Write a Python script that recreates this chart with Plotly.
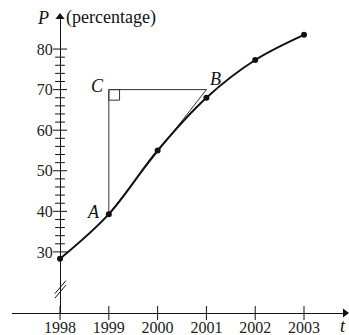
import plotly.graph_objects as go

# data
years = [1998, 1999, 2000, 2001, 2002, 2003]
percent = [28.3, 39.3, 55, 68, 77.3, 83.5]

point_a = (1999, 39.3)
point_b = (2001, 70)
point_c = (1999, 70)

y_major = [30, 40, 50, 60, 70, 80]
y_minor = [v for v in range(30, 81, 2) if v % 10 != 0]

x_range = [1997.016, 2003.84]
y_range = [14.94, 87.9]

serif = "Liberation Serif, Times New Roman, DejaVu Serif, serif"
ink = "#111111"

fig = go.Figure()

# triangle A -> C -> B and tangent A -> B
fig.add_trace(
    go.Scatter(
        x=[point_a[0], point_c[0], point_b[0], point_a[0]],
        y=[point_a[1], point_c[1], point_b[1], point_a[1]],
        mode="lines",
        line=dict(color="#333333", width=1),
        hoverinfo="skip",
    )
)

# the curve
fig.add_trace(
    go.Scatter(
        x=years,
        y=percent,
        mode="lines+markers",
        line=dict(color=ink, width=2, shape="spline", smoothing=1),
        marker=dict(color=ink, size=6),
        cliponaxis=False,
    )
)

# crossing tick marks on both axes
fig.add_trace(
    go.Scatter(
        x=years, y=[y_range[0]] * len(years), mode="markers",
        marker=dict(symbol="line-ns", size=10, line=dict(color=ink, width=1)),
        cliponaxis=False, hoverinfo="skip",
    )
)
fig.add_trace(
    go.Scatter(
        x=[years[0]] * len(y_major), y=y_major, mode="markers",
        marker=dict(symbol="line-ew", size=10, line=dict(color=ink, width=1)),
        cliponaxis=False, hoverinfo="skip",
    )
)
fig.add_trace(
    go.Scatter(
        x=[years[0]] * len(y_minor), y=y_minor, mode="markers",
        marker=dict(symbol="line-ew", size=7, line=dict(color=ink, width=1)),
        cliponaxis=False, hoverinfo="skip",
    )
)

# axis arrow heads
fig.add_trace(
    go.Scatter(
        x=[years[0], x_range[1]],
        y=[y_range[1], y_range[0]],
        mode="markers",
        marker=dict(symbol=["triangle-up", "triangle-right"], size=8, color=ink),
        cliponaxis=False,
        hoverinfo="skip",
    )
)

# right-angle box at C
fig.add_shape(
    type="rect",
    x0=point_c[0], x1=point_c[0] + 0.22,
    y0=point_c[1] - 2.6, y1=point_c[1],
    line=dict(color="#333333", width=1),
)

# axis break marks
for dy in [0, 1.1]:
    fig.add_shape(
        type="line",
        x0=1997.895, x1=1998.12,
        y0=18.6 + dy, y1=21.8 + dy,
        line=dict(color=ink, width=1),
    )

labels = [("C", 1998.76, 71.0), ("A", 1998.68, 39.8), ("B", 2001.18, 72.7)]
for txt, lx, ly in labels:
    fig.add_annotation(
        x=lx, y=ly, text=f"<i>{txt}</i>", showarrow=False,
        font=dict(family=serif, size=18, color=ink),
    )

fig.add_annotation(
    x=1997.66, y=87.7, text="<i>P</i>", showarrow=False,
    font=dict(family=serif, size=18, color=ink),
)
fig.add_annotation(
    x=1998.09, y=87.7, text="(percentage)", showarrow=False, xanchor="left",
    font=dict(family=serif, size=18, color=ink),
)
fig.add_annotation(
    x=2003.7, y=-0.045, yref="paper", yanchor="middle", text="<i>t</i>",
    showarrow=False, xanchor="left", font=dict(family=serif, size=18, color=ink),
)

fig.update_layout(
    width=349,
    height=335,
    margin=dict(l=12, r=4, t=17, b=22),
    plot_bgcolor="white",
    paper_bgcolor="white",
    showlegend=False,
    font=dict(family=serif, size=16, color="#222222"),
    xaxis=dict(range=x_range, showgrid=False, zeroline=False, tickvals=years,
               ticks="", showline=True, linecolor=ink, linewidth=1.2, automargin=False),
    yaxis=dict(range=y_range, showgrid=False, zeroline=False, tickvals=y_major,
               ticks="outside", ticklen=4, tickcolor="rgba(0,0,0,0)",
               anchor="free", position=0.1441, automargin=False,
               showline=True, linecolor=ink, linewidth=1.2),
)

# the page's default body margin would shift the figure
fig.write_html(
    "out.html",
    config={"displayModeBar": False},
    post_script="document.body.style.margin='0';",
)
